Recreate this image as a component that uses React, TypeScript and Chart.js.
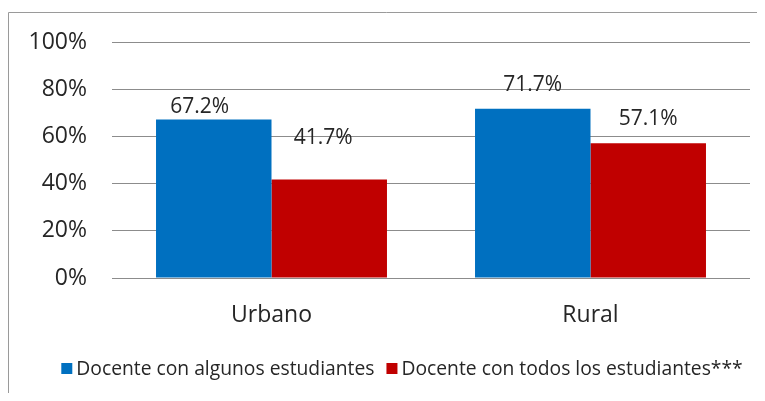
import React, { useEffect, useRef } from "react";
import { Chart, registerables } from "chart.js";

Chart.register(...registerables);

const categories = ["Urbano", "Rural"];
const seriesNames = ["Docente con algunos estudiantes", "Docente con todos los estudiantes***"];
const algunos = [67.2, 71.7];
const todos = [41.7, 57.1];
const yTicks = [0, 20, 40, 60, 80, 100];

const BLUE = "#0070C0";
const RED = "#C00000";
const TEXT = "#262626";
const GRID = "#8c8c8c";
const FONT = "'Open Sans', sans-serif";

const framePlugin = {
  id: "frame",
  beforeDraw(chart: any) {
    const ctx = chart.ctx;
    ctx.save();
    ctx.strokeStyle = "#9a9a9a";
    ctx.lineWidth = 1;
    ctx.beginPath();
    ctx.moveTo(0.5, chart.height);
    ctx.lineTo(0.5, 4.5);
    ctx.lineTo(chart.width, 4.5);
    ctx.stroke();
    ctx.restore();
  },
};

const labelPlugin = {
  id: "barLabels",
  afterDatasetsDraw(chart: any, _args: any, opts: any) {
    const ctx = chart.ctx;
    const size = opts.size || 21;
    ctx.save();
    ctx.font = `${size}px ${FONT}`;
    ctx.fillStyle = TEXT;
    ctx.textAlign = "center";
    ctx.textBaseline = "alphabetic";
    chart.data.datasets.forEach((ds: any, di: number) => {
      const meta = chart.getDatasetMeta(di);
      meta.data.forEach((bar: any, i: number) => {
        const nudge = (opts.nudges && opts.nudges[di] && opts.nudges[di][i]) || [0, -20];
        const v = ds.data[i];
        const capCenter = bar.y + nudge[1];
        ctx.fillText(v.toFixed(1) + "%", bar.x + nudge[0], capCenter + size * 0.357);
      });
    });
    ctx.restore();
  },
};

const legendPlugin = {
  id: "customLegend",
  afterDraw(chart: any, _args: any, opts: any) {
    const ctx = chart.ctx;
    const size = opts.size || 17;
    const box = 11;
    const gap = 4;
    const itemGap = 12;
    ctx.save();
    ctx.font = `${size}px ${FONT}`;
    const items = chart.data.datasets.map((ds: any) => ({
      text: ds.label,
      color: ds.backgroundColor,
      w: box + gap + ctx.measureText(ds.label).width,
    }));
    const total = items.reduce((s: number, it: any) => s + it.w, 0) + itemGap * (items.length - 1);
    let x = opts.centerX - total / 2;
    const cy = opts.centerY;
    items.forEach((it: any) => {
      ctx.fillStyle = it.color;
      ctx.fillRect(x, cy - box / 2, box, box);
      ctx.fillStyle = TEXT;
      ctx.textAlign = "left";
      ctx.textBaseline = "alphabetic";
      ctx.fillText(it.text, x + box + gap, cy + size * 0.357);
      x += it.w + itemGap;
    });
    ctx.restore();
  },
};

export default function App() {
  const ref = useRef<HTMLCanvasElement>(null);
  useEffect(() => {
    if (!ref.current) return;
    const chart = new Chart(ref.current, {
      type: "bar",
      data: {
        labels: categories,
        datasets: [
          { label: seriesNames[0], data: algunos, backgroundColor: BLUE, borderWidth: 0 },
          { label: seriesNames[1], data: todos, backgroundColor: RED, borderWidth: 0 },
        ],
      },
      plugins: [framePlugin, labelPlugin, legendPlugin],
      options: {
        responsive: false,
        animation: false,
        layout: { padding: { top: 0, right: 15, left: 0, bottom: 0 } },
        datasets: { bar: { categoryPercentage: 0.724, barPercentage: 1 } },
        scales: {
          x: {
            grid: { display: false },
            border: { display: false },
            ticks: { color: TEXT, font: { family: FONT, size: 23 }, padding: 16 },
            afterFit: (s: any) => {
              s.height = 115;
            },
          },
          y: {
            min: 0,
            max: 100,
            afterBuildTicks: (s: any) => {
              s.ticks = yTicks.map((v) => ({ value: v }));
            },
            grid: { color: GRID, lineWidth: 1, drawTicks: false },
            border: { display: false },
            ticks: {
              color: TEXT,
              font: { family: FONT, size: 23 },
              padding: 25,
              callback: (v: any) => v + "%",
            },
            afterFit: (s: any) => {
              s.width = 104;
              s.paddingTop = 34;
              s.paddingBottom = 20;
            },
          },
        },
        plugins: {
          legend: { display: false },
          tooltip: { enabled: false },
          barLabels: {
            size: 21,
            nudges: [
              [[-14, -13.6], [0, -25.5]],
              [[-6, -42.9], [0, -25.4]],
            ],
          },
          customLegend: { size: 19.3, centerX: 394, centerY: 360.5 },
        } as any,
      },
    });
    return () => chart.destroy();
  }, []);
  return <canvas ref={ref} width={757} height={385} style={{ display: "block" }} />;
}
